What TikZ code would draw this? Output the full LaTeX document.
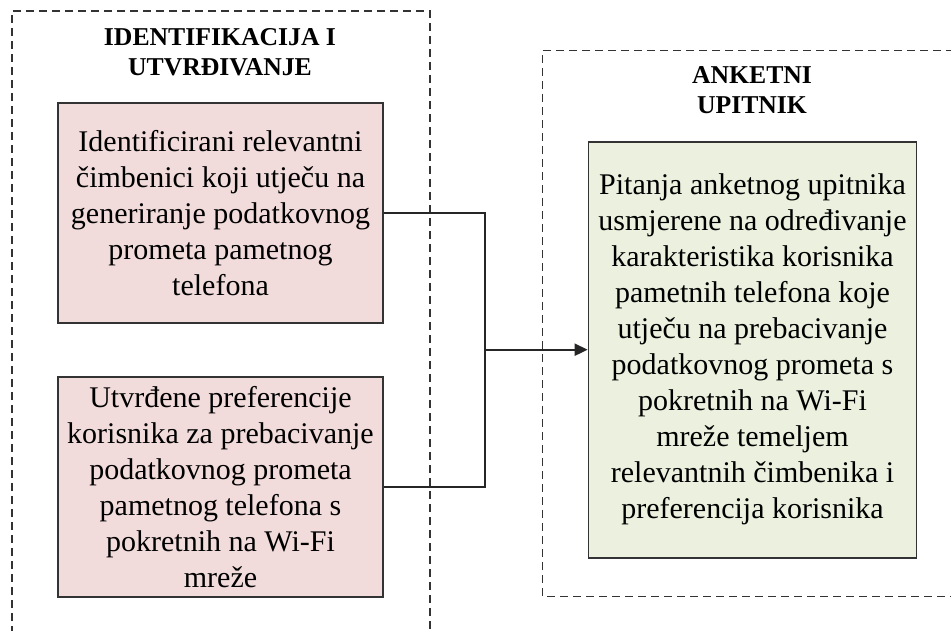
\documentclass[tikz,border=0pt]{standalone}
\usepackage{fontspec}
\setmainfont{Liberation Serif}
\usetikzlibrary{arrows.meta}
\definecolor{pinkfill}{HTML}{F2DCDB}
\definecolor{greenfill}{HTML}{EBF1DE}
\definecolor{edge}{HTML}{333333}
\tikzset{
  boxtext/.style={font=\fontsize{30}{36}\selectfont, align=center, inner sep=0pt},
  pinkbox/.style={boxtext, draw=edge, line width=1.7pt, fill=pinkfill, minimum width=325pt, minimum height=220pt},
  greenbox/.style={boxtext, draw=edge, line width=1.7pt, fill=greenfill, minimum width=328pt, minimum height=416pt},
  titletext/.style={font=\fontsize{25.7}{30}\selectfont\bfseries, align=center, inner sep=0pt},
  groupline/.style={draw=edge, line width=1.2pt, dash pattern=on 8pt off 5pt},
  link/.style={draw=black!85, line width=1.5pt},
}
\begin{document}
\begin{tikzpicture}[x=1pt,y=-1pt]
\useasboundingbox (0,0) rectangle (951,631);
\clip (0,0) rectangle (951,631);
% group frames
\draw[groupline] (12,660) -- (12,11) -- (430,11) -- (430,660);
\draw[groupline] (980,50.7) -- (542.7,50.7) -- (542.7,596.7) -- (980,596.7);
% titles
\node[titletext] (t1) at (220,52) {IDENTIFIKACIJA I\\UTVRĐIVANJE};
\node[titletext] (t2) at (752,90) {ANKETNI\\UPITNIK};
% boxes
\node[pinkbox] (p1) at (220.5,213) {Identificirani relevantni\\čimbenici koji utječu na\\generiranje podatkovnog\\prometa pametnog\\telefona};
\node[pinkbox] (p2) at (220.5,487) {Utvrđene preferencije\\korisnika za prebacivanje\\podatkovnog prometa\\pametnog telefona s\\pokretnih na Wi-Fi\\mreže};
\node[greenbox] (g) at (752.5,349.7) {Pitanja anketnog upitnika\\usmjerene na određivanje\\karakteristika korisnika\\pametnih telefona koje\\utječu na prebacivanje\\podatkovnog prometa s\\pokretnih na Wi-Fi\\mreže temeljem\\relevantnih čimbenika i\\preferencija korisnika};
% connectors
\coordinate (j) at (485,349.7);
\draw[link] (p1.east) -| (j);
\draw[link] (p2.east) -| (j);
\draw[link, line width=2.2pt, -{Triangle[length=13pt,width=12pt]}] (j) -- (g.west);
\end{tikzpicture}
\end{document}
